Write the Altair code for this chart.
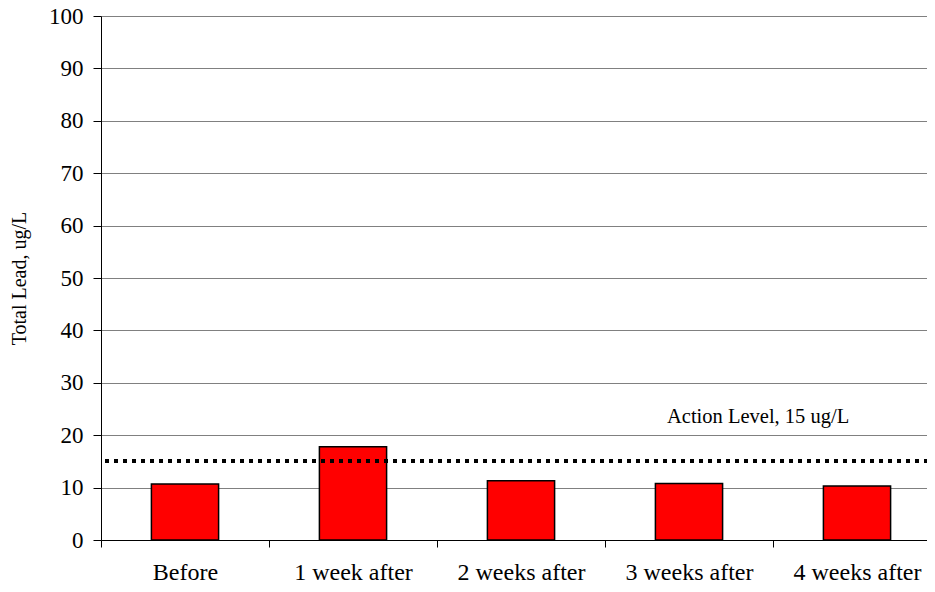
import altair as alt
import pandas as pd

categories = ["Before", "1 week after", "2 weeks after", "3 weeks after", "4 weeks after"]
lead_values = [10.7, 17.8, 11.3, 10.8, 10.3]
action_level = [15.1]
action_label = ["Action Level, 15 ug/L"]

df = pd.DataFrame({"period": categories, "lead": lead_values})
FONT = "Liberation Serif"

x_enc = alt.X(
    "period:N",
    sort=categories,
    scale=alt.Scale(paddingInner=0, paddingOuter=0),
    axis=alt.Axis(
        title=None,
        labelAngle=0,
        labelFont=FONT,
        labelFontSize=24,
        labelColor="black",
        labelPadding=13,
        tickBand="extent",
        tickSize=7,
        tickColor="black",
        domainColor="black",
        grid=False,
    ),
)

bars = alt.Chart(df).mark_bar(
    color="#FF0000", stroke="black", strokeWidth=1.5, width={"band": 0.4}
).encode(
    x=x_enc,
    y=alt.Y(
        "lead:Q",
        scale=alt.Scale(domain=[0, 100]),
        axis=alt.Axis(
            title="Total Lead, ug/L",
            titleFont=FONT,
            titleFontSize=20,
            titleFontWeight="normal",
            titleColor="black",
            titlePadding=19,
            values=list(range(0, 101, 10)),
            labelFont=FONT,
            labelFontSize=23,
            labelColor="black",
            labelPadding=10,
            tickSize=8,
            tickColor="black",
            domainColor="black",
            gridColor="#808080",
            gridWidth=1,
        ),
    ),
)

al_df = pd.DataFrame({"level": action_level, "label": action_label})

rule = alt.Chart(al_df).mark_rule(
    color="black", strokeWidth=4, strokeDash=[4, 5]
).encode(
    y="level:Q",
    x=alt.value(4),
    x2=alt.value(840),
)

label = alt.Chart(al_df).mark_text(
    font=FONT, fontSize=20.5, color="black", align="left", baseline="middle", dy=-44
).encode(
    y="level:Q",
    x=alt.value(566),
    text="label:N",
)

chart = alt.layer(bars, rule, label).properties(
    width=840,
    height=524,
    autosize=alt.AutoSizeParams(type="none"),
    padding={"left": 93, "top": 8, "right": -14, "bottom": 44},
).configure_view(strokeOpacity=0)

chart.save("out.html", embed_options={"renderer": "svg", "actions": False})
